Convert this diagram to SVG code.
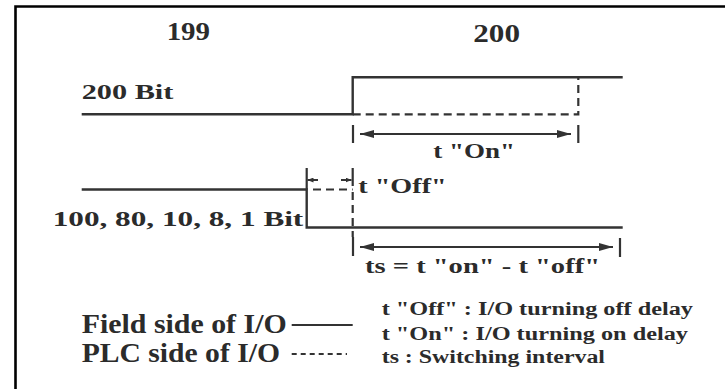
<svg xmlns="http://www.w3.org/2000/svg" width="725" height="389" viewBox="0 0 725 389">
<style>
text{font-family:"Liberation Serif","DejaVu Serif",serif;font-weight:bold;fill:#2b2b2b}
.big{font-size:26px}
.lbl{font-size:22px}
.leg{font-size:27px}
.note{font-size:18px}
.sig{fill:none;stroke:#333;stroke-width:2.4}
.plc{fill:none;stroke:#333;stroke-width:2.2;stroke-dasharray:8 5}
.dim{fill:none;stroke:#333;stroke-width:2}
.tick{fill:none;stroke:#333;stroke-width:2.2}
</style>
<defs>
<marker id="ah" viewBox="0 0 14 8" refX="14" refY="4" markerWidth="14" markerHeight="8" markerUnits="userSpaceOnUse" orient="auto-start-reverse">
<path d="M0,0 L14,4 L0,8 Z" fill="#333"/>
</marker>
<marker id="ahs" viewBox="0 0 6 5" refX="6" refY="2.5" markerWidth="6" markerHeight="5" markerUnits="userSpaceOnUse" orient="auto">
<path d="M0,0 L6,2.5 L0,5 Z" fill="#333"/>
</marker>
</defs>
<rect x="0" y="0" width="725" height="389" fill="#fff"/>
<path d="M15.5,400 V6.5 H740" fill="none" stroke="#000" stroke-width="2.6"/>

<g id="scan-199"><text class="big" x="166.7" y="39.5" textLength="43.3" lengthAdjust="spacingAndGlyphs">199</text></g>
<g id="scan-200"><text class="big" x="473.3" y="41.5" textLength="46.7" lengthAdjust="spacingAndGlyphs">200</text></g>

<g id="bit-200">
<text class="lbl" x="81.7" y="98.5" textLength="91.7" lengthAdjust="spacingAndGlyphs">200 Bit</text>
<path class="sig" d="M81.7,114.3 H352.7 V77.3 H622.7"/>
<path class="plc" d="M352.7,114.3 H578.3 V77.3"/>
</g>

<g id="bit-100">
<text class="lbl" x="52.7" y="226" textLength="250.6" lengthAdjust="spacingAndGlyphs">100, 80, 10, 8, 1 Bit</text>
<path class="sig" d="M81.7,189.5 H306.7 V227.5 H622.7"/>
<path class="plc" d="M313,189.5 H352.7"/>
<path class="plc" d="M352.7,192 V237"/>
</g>

<g id="connectors">
<g id="t-on">
<path class="tick" d="M353,125 V143 M578.3,125 V143"/>
<path class="dim" d="M360,134 H571" marker-start="url(#ah)" marker-end="url(#ah)"/>
</g>
<g id="t-off">
<path class="tick" d="M306.7,168 V189.5 M352.7,168 V186"/>
<path class="dim" d="M318,180 H307.5" marker-end="url(#ahs)"/>
<path class="dim" d="M341,180 H351.5" marker-end="url(#ahs)"/>
</g>
<g id="ts">
<path class="tick" d="M353,237 V256 M620,238 V257"/>
<path class="dim" d="M360,247 H613" marker-start="url(#ah)" marker-end="url(#ah)"/>
</g>
</g>

<g id="t-on-label"><text class="lbl" x="433.3" y="157.7" textLength="81.7" lengthAdjust="spacingAndGlyphs">t "On"</text></g>
<g id="t-off-label"><text class="lbl" x="358.3" y="193.3" textLength="88.4" lengthAdjust="spacingAndGlyphs">t "Off"</text></g>
<g id="ts-label"><text class="lbl" x="365" y="273.3" textLength="235" lengthAdjust="spacingAndGlyphs">ts = t "on" - t "off"</text></g>

<g id="legend">
<text class="leg" x="81.7" y="332.7" textLength="205" lengthAdjust="spacingAndGlyphs">Field side of I/O</text>
<path fill="none" stroke="#333" stroke-width="2" d="M291.7,325 H352.7"/>
<text class="leg" x="81.7" y="361.7" textLength="198.3" lengthAdjust="spacingAndGlyphs">PLC side of I/O</text>
<path fill="none" stroke="#333" stroke-width="1.8" stroke-dasharray="5 4" d="M291.7,354 H347"/>
<text class="note" x="381.7" y="315" textLength="311.3" lengthAdjust="spacingAndGlyphs">t "Off" : I/O turning off delay</text>
<text class="note" x="381.7" y="340" textLength="306.3" lengthAdjust="spacingAndGlyphs">t "On" : I/O turning on delay</text>
<text class="note" x="381.7" y="363" textLength="223.3" lengthAdjust="spacingAndGlyphs">ts : Switching interval</text>
</g>
</svg>
